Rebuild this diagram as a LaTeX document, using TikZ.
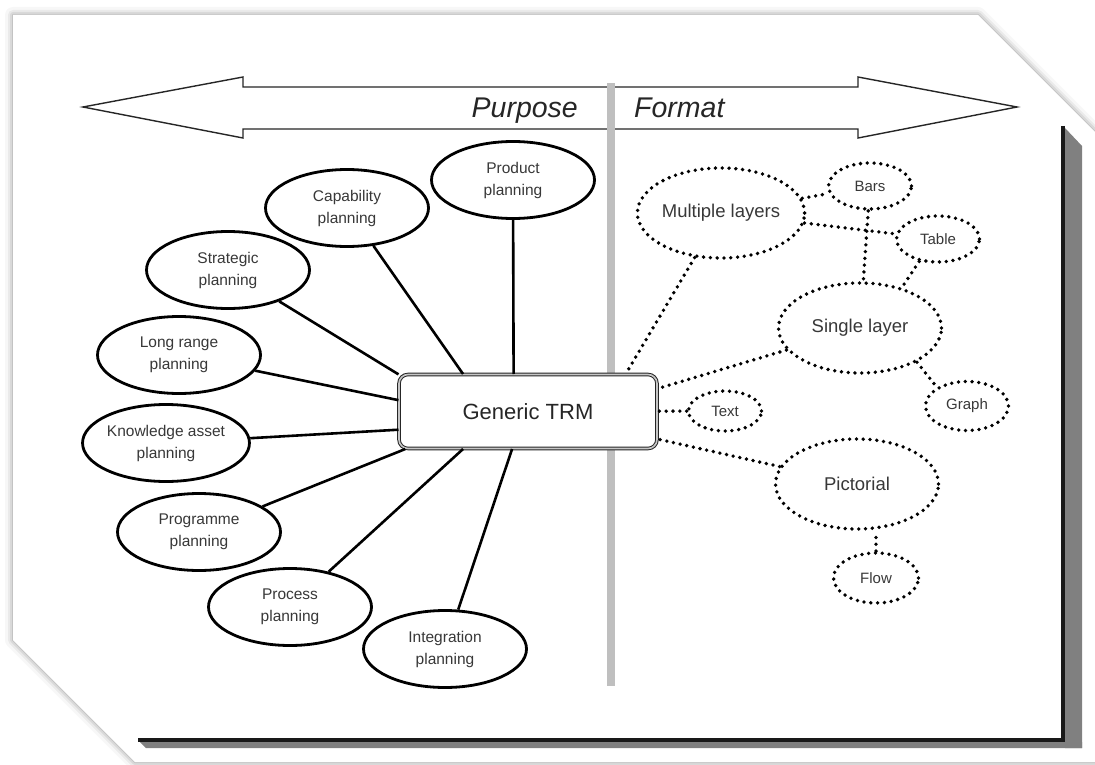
\documentclass[tikz,border=0pt]{standalone}
\usepackage{fontspec}
\setmainfont{Liberation Sans}
\usepackage{tikz}
\usetikzlibrary{shapes.geometric, positioning, calc}
\tikzset{
  planE/.style={ellipse, draw=black, line width=2.8pt, fill=white,
                minimum width=163pt, minimum height=77pt, inner sep=0pt,
                align=center, font=\fontsize{15.5}{22}\selectfont, text=black!78},
  formE/.style={ellipse, draw=black, line width=3.8pt, line cap=round,
                dash pattern=on 0pt off 6.8pt, fill=white, inner sep=0pt,
                text=black!78},
  bigF/.style={formE, minimum width=163pt, minimum height=90pt,
               font=\fontsize{18.5}{22}\selectfont},
  smallF/.style={formE, minimum width=83pt, minimum height=46pt,
                 font=\fontsize{15}{18}\selectfont},
  trmBox/.style={rectangle, rounded corners=9pt, draw=black!85, line width=1pt,
                 double=gray!45, double distance=1.6pt, fill=white,
                 minimum width=258pt, minimum height=74pt,
                 font=\fontsize{22}{24}\selectfont, text=black!85},
  link1/.style={draw=black, line width=2.6pt},
  link2/.style={draw=black, line width=3.8pt, line cap=round,
                dash pattern=on 0pt off 6.8pt},
  headT/.style={font=\fontsize{28.5}{30}\selectfont\itshape, text=black!85,
                inner sep=0pt},
}

\begin{document}
\begin{tikzpicture}[x=1pt, y=-1pt]
    \useasboundingbox (0,0) rectangle (1095,765);
    \clip (0,0) rectangle (1095,765);

    %% page with soft shadow
    \foreach \w/\o in {16/0.03, 10/0.05, 6/0.07, 2/0.1} {
      \draw[black, opacity=\o, line width=\w pt, line join=round]
            (13,15) -- (978,15) -- (1125,162) -- (1125,762)
            -- (135,762) -- (13,640) -- cycle;
    }
    \fill[white] (13,15) -- (978,15) -- (1125,162) -- (1125,762)
                 -- (135,762) -- (13,640) -- cycle;

    %% dark shadow frame
    \fill[black!50] (1065,128) -- (1082,146) -- (1082,748) -- (1065,748) -- cycle;
    \fill[black!50] (140,742) -- (1082,742) -- (1082,748) -- (146,748) -- cycle;
    \draw[black!90, line width=3.5pt] (1063,126) -- (1063,740) -- (138,740);

    %% double arrow
    \draw[black!85, line width=1.4pt, fill=white, line join=miter]
          (83,107) -- (243,77) -- (243,87) -- (858,87) -- (858,77)
          -- (1017,107) -- (858,138) -- (858,129) -- (243,129)
          -- (243,138) -- cycle;
    \node[headT, anchor=base east] (purp) at (578,118) {Purpose};
    \node[headT, anchor=base west] (form) at (634,118) {Format};

    %% divider
    \fill[black!25] (607,83) rectangle (615,686);

    %% centre
    \node[trmBox] (trm) at (528,411.5) {Generic TRM};

    %% purpose side
    \node[planE] (prod)  at (513,180) {Product\\planning};
    \node[planE] (cap)   at (347,208) {Capability\\planning};
    \node[planE] (strat) at (228,270) {Strategic\\planning};
    \node[planE] (long)  at (179,355) {Long range\\planning};
    \node[planE] (know)  at (166,443) {Knowledge asset\\planning};
    \node[planE] (prog)  at (199,532) {Programme\\planning};
    \node[planE] (proc)  at (290,607) {Process\\planning};
    \node[planE] (integ) at (445,649) {Integration\\planning};

    \draw[link1] (prod)  -- (trm.111);
    \draw[link1] (cap)   -- (trm.150);
    \draw[link1] (strat) -- (trm.164);
    \draw[link1] (long)  -- (trm.175);
    \draw[link1] (know)  -- (trm.188);
    \draw[link1] (prog)  -- (trm.197);
    \draw[link1] (proc)  -- (trm.210);
    \draw[link1] (integ) -- (trm.247);

    %% format side
    \node[bigF] (multi)  at (721,213) {Multiple layers};
    \node[bigF] (single) at (860,328) {Single layer};
    \node[bigF] (pict)   at (857,484) {Pictorial};
    \node[smallF] (bars)  at (870,186) {Bars};
    \node[smallF] (table) at (938,239) {Table};
    \node[smallF, minimum height=49pt] (graph) at (967,406) {Graph};
    \node[smallF, minimum width=73pt, minimum height=40pt] (txt) at (725,411) {Text};
    \node[smallF, minimum width=85pt, minimum height=50pt] (flow) at (876,578) {Flow};

    \draw[link2] (multi) -- (trm.21);
    \draw[link2] (single) -- (trm.10);
    \draw[link2] (txt) -- (trm);
    \draw[link2] (pict) -- (trm.-12);
    \draw[link2] (multi) -- (bars);
    \draw[link2] (multi) -- (table);
    \draw[link2] (bars) -- (single);
    \draw[link2] (table.230) -- (single.44);
    \draw[link2] (single.-31) -- (graph.148);
    \draw[link2] (flow.north) -- (flow.north |- pict.south);
\end{tikzpicture}
\end{document}
